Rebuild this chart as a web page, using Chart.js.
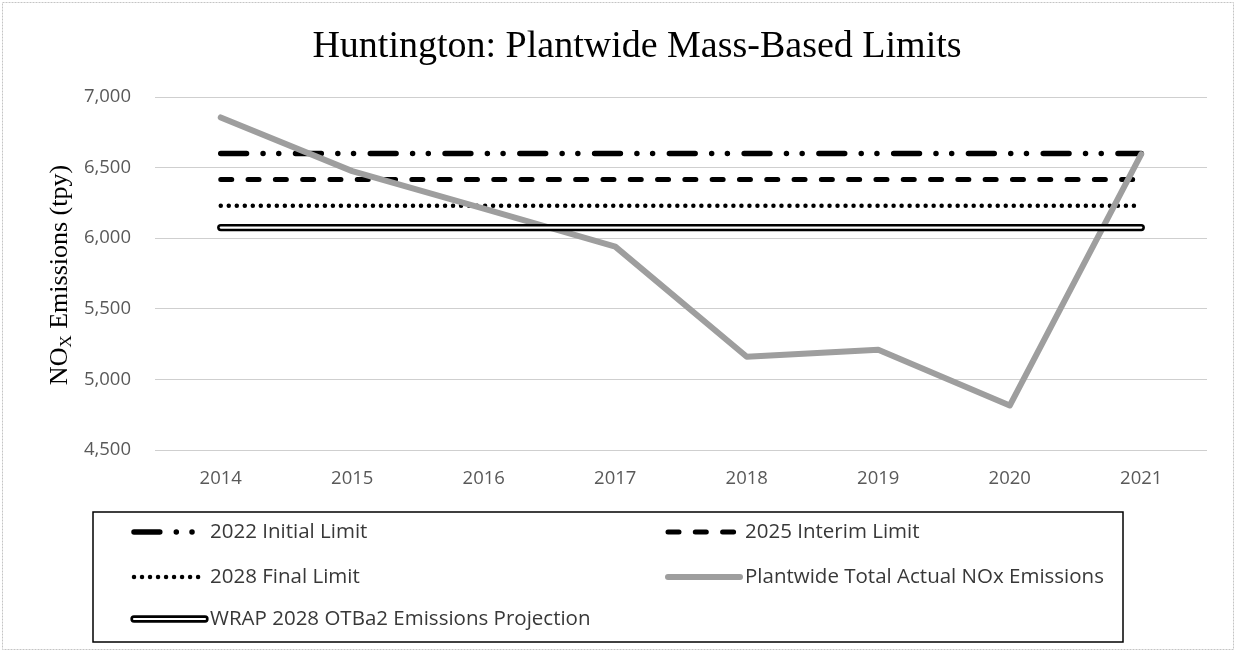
<!DOCTYPE html>
<html>
<head>
    <title>Huntington: Plantwide Mass-Based Limits</title>
    <meta charset="UTF-8">
    <script src="https://cdn.jsdelivr.net/npm/chart.js"></script>
    <style>
        body { margin: 0; background: #fff; }
        .chart-container { width: 1236px; height: 652px; position: relative; }
    </style>
</head>
<body>
    <div class="chart-container"><canvas id="noxChart"></canvas></div>
    <script>
        // data
        const years = ['2014', '2015', '2016', '2017', '2018', '2019', '2020', '2021'];
        const initialLimit = [6600, 6600, 6600, 6600, 6600, 6600, 6600, 6600];
        const interimLimit = [6415, 6415, 6415, 6415, 6415, 6415, 6415, 6415];
        const finalLimit = [6230, 6230, 6230, 6230, 6230, 6230, 6230, 6230];
        const actualEmissions = [6855, 6475, 6210, 5940, 5160, 5210, 4815, 6595];
        const wrapProjection = [6075, 6075, 6075, 6075, 6075, 6075, 6075, 6075];
        const yTicks = [4500, 5000, 5500, 6000, 6500, 7000];

        const tickFont = { family: "'Open Sans', sans-serif", size: 18.5 };

        // title, y-axis title with subscript, frame and the boxed legend
        const decorations = {
            id: 'decorations',
            afterDraw(chart) {
                const c = chart.ctx;
                c.save();
                c.strokeStyle = '#c4c4c4';
                c.lineWidth = 1;
                c.setLineDash([2, 1]);
                c.strokeRect(2.5, 2.5, 1231, 647);
                c.setLineDash([]);

                c.fillStyle = '#000';
                c.font = "38px 'Liberation Serif', serif";
                c.textAlign = 'center';
                c.textBaseline = 'middle';
                c.fillText('Huntington: Plantwide Mass-Based Limits', 637, 47);

                // rotated y title: NO + subscript X + rest
                c.save();
                c.translate(60, 275);
                c.rotate(-Math.PI / 2);
                c.textAlign = 'left';
                c.textBaseline = 'middle';
                const big = "26px 'Liberation Serif', serif";
                const small = "17px 'Liberation Serif', serif";
                c.font = big;
                const w1 = c.measureText('NO').width;
                const w3 = c.measureText(' Emissions (tpy)').width;
                c.font = small;
                const w2 = c.measureText('X').width;
                let x = -(w1 + w2 + w3) / 2;
                c.font = big;
                c.fillText('NO', x, 0);
                x += w1;
                c.font = small;
                c.fillText('X', x, 7);
                x += w2;
                c.font = big;
                c.fillText(' Emissions (tpy)', x, 0);
                c.restore();

                // legend box
                c.strokeStyle = '#000';
                c.lineWidth = 1.5;
                c.strokeRect(93, 512, 1030, 130);
                const slots = [
                    [134, 202, 210, 532],
                    [668, 740, 745, 532],
                    [134, 202, 210, 577],
                    [668, 740, 745, 577],
                    [134, 205, 210, 619]
                ];
                const items = chart.data.datasets.filter(d => !d.hideInLegend);
                items.forEach((ds, i) => {
                    const [sx, ex, tx, y] = slots[i];
                    c.beginPath();
                    c.moveTo(sx, y);
                    c.lineTo(ex, y);
                    c.setLineDash(ds.borderDash || []);
                    c.lineCap = ds.borderCapStyle || 'butt';
                    c.lineWidth = ds.borderWidth;
                    c.strokeStyle = ds.borderColor;
                    c.stroke();
                    if (ds.innerLine) {
                        c.beginPath();
                        c.moveTo(sx, y);
                        c.lineTo(ex, y);
                        c.lineWidth = 2.2;
                        c.strokeStyle = '#fff';
                        c.stroke();
                    }
                    c.setLineDash([]);
                    c.fillStyle = '#383838';
                    c.font = "20.5px 'Open Sans', sans-serif";
                    c.textAlign = 'left';
                    c.textBaseline = 'middle';
                    c.fillText(ds.label, tx, y);
                });
                c.restore();
            }
        };

        const ctx = document.getElementById('noxChart').getContext('2d');
        const chart = new Chart(ctx, {
            type: 'line',
            data: {
                labels: years,
                datasets: [{
                    label: '2022 Initial Limit',
                    data: initialLimit,
                    borderColor: '#000',
                    borderWidth: 5.5,
                    borderDash: [25.8, 16.5, 0.01, 15.7, 0.01, 16.75],
                    borderCapStyle: 'round',
                    order: 5
                }, {
                    label: '2025 Interim Limit',
                    data: interimLimit,
                    borderColor: '#000',
                    borderWidth: 5,
                    borderDash: [11, 16.3],
                    borderCapStyle: 'round',
                    order: 4
                }, {
                    label: '2028 Final Limit',
                    data: finalLimit,
                    borderColor: '#000',
                    borderWidth: 4.5,
                    borderDash: [0.01, 8],
                    borderCapStyle: 'round',
                    order: 3
                }, {
                    label: 'Plantwide Total Actual NOx Emissions',
                    data: actualEmissions,
                    borderColor: '#9e9e9e',
                    borderWidth: 6,
                    borderJoinStyle: 'round',
                    borderCapStyle: 'round',
                    order: 2
                }, {
                    label: 'WRAP 2028 OTBa2 Emissions Projection',
                    data: wrapProjection,
                    borderColor: '#000',
                    borderWidth: 7.3,
                    borderCapStyle: 'round',
                    innerLine: true,
                    order: 1
                }, {
                    label: 'wrap inner',
                    data: wrapProjection,
                    borderColor: '#fff',
                    borderWidth: 2.2,
                    borderCapStyle: 'round',
                    hideInLegend: true,
                    order: 0
                }]
            },
            options: {
                responsive: true,
                maintainAspectRatio: false,
                animation: false,
                layout: { padding: { top: 97, right: 29, bottom: 0, left: 0 } },
                elements: { point: { radius: 0 }, line: { tension: 0 } },
                scales: {
                    x: {
                        offset: true,
                        grid: { display: false, drawTicks: false },
                        border: { display: false },
                        ticks: { color: '#595959', font: tickFont, padding: 18, maxRotation: 0 },
                        afterFit(scale) { scale.height = 202; }
                    },
                    y: {
                        min: 4500,
                        max: 7000,
                        afterBuildTicks(scale) { scale.ticks = yTicks.map(v => ({ value: v })); },
                        grid: { color: '#cfcfcf', lineWidth: 1, drawTicks: false },
                        border: { display: false },
                        ticks: {
                            color: '#595959',
                            font: tickFont,
                            padding: 24,
                            callback: v => v.toLocaleString('en-US')
                        },
                        afterFit(scale) { scale.width = 155; }
                    }
                },
                plugins: {
                    legend: { display: false },
                    tooltip: { enabled: false },
                    title: { display: false }
                }
            },
            plugins: [decorations]
        });
    </script>
</body>
</html>
